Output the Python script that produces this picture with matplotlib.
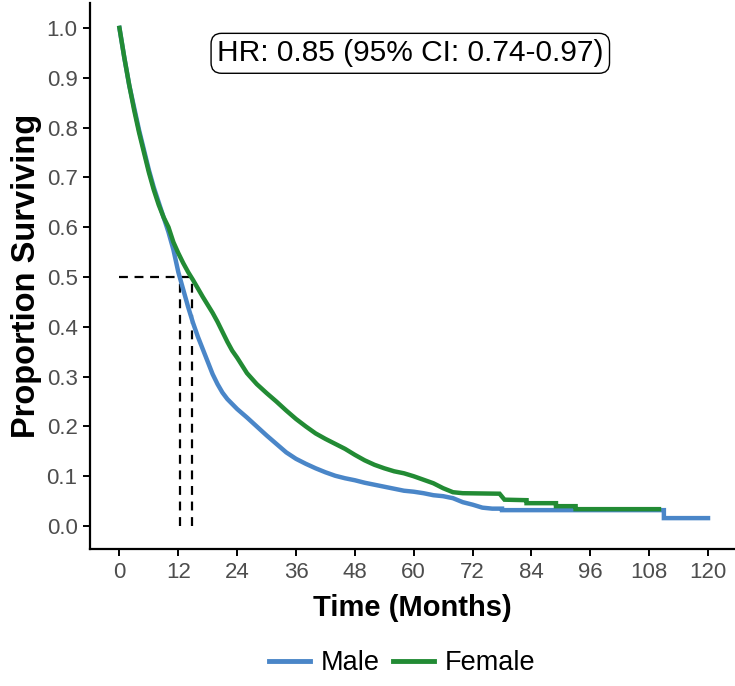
import matplotlib
matplotlib.use("Agg")
from matplotlib import pyplot as plt
from matplotlib.lines import Line2D

# Kaplan-Meier estimates
# (dense part drawn as a polyline, repeated times give the visible drops in the tail)
male_t = [0, 1, 2, 3, 4, 5, 6, 7, 8, 9, 10, 11, 12, 13, 14, 15, 16, 17, 18, 19,
          20, 21, 22, 23, 24, 26, 28, 30, 32, 34, 36, 38, 40, 42, 44, 46, 48, 50,
          52, 54, 56, 58, 60, 62, 64, 66, 68, 70, 72, 74, 76, 78, 78, 111, 111, 120]
male_s = [1.0, 0.94, 0.885, 0.84, 0.795, 0.755, 0.715, 0.68, 0.65, 0.62, 0.59,
          0.555, 0.51, 0.475, 0.44, 0.408, 0.38, 0.355, 0.33, 0.305, 0.285,
          0.268, 0.255, 0.245, 0.235, 0.218, 0.2, 0.182, 0.165, 0.148, 0.135,
          0.125, 0.116, 0.108, 0.101, 0.096, 0.092, 0.087, 0.083, 0.079, 0.075,
          0.071, 0.069, 0.066, 0.062, 0.06, 0.056, 0.048, 0.043, 0.037, 0.035,
          0.035, 0.032, 0.032, 0.016, 0.016]

female_t = [0, 1, 2, 3, 4, 5, 6, 7, 8, 9, 10, 11, 12, 13, 14, 15, 16, 17, 18, 19,
            20, 21, 22, 23, 24, 26, 28, 30, 32, 34, 36, 38, 40, 42, 44, 46, 48,
            50, 52, 54, 56, 58, 60, 62, 64, 66, 68, 70, 77.5, 78.5, 83, 83, 89,
            89, 93, 93, 110]
female_s = [1.0, 0.94, 0.885, 0.835, 0.79, 0.75, 0.71, 0.675, 0.645, 0.62, 0.6,
            0.57, 0.548, 0.528, 0.51, 0.494, 0.477, 0.46, 0.444, 0.428, 0.41,
            0.39, 0.37, 0.352, 0.338, 0.307, 0.285, 0.267, 0.25, 0.232, 0.215,
            0.2, 0.186, 0.175, 0.165, 0.155, 0.143, 0.132, 0.123, 0.116, 0.11,
            0.106, 0.1, 0.093, 0.086, 0.076, 0.068, 0.066, 0.065, 0.053, 0.052,
            0.046, 0.046, 0.04, 0.04, 0.034, 0.034]

medians = [12.25, 14.75]
hr_text = "HR: 0.85 (95% CI: 0.74-0.97)"
x_ticks = list(range(0, 121, 12))
y_ticks = [i / 10 for i in range(11)]

blue = "#4A86C8"
green = "#228B34"
grey = "#4D4D4D"

plt.rcParams['font.family'] = ['Liberation Sans', 'DejaVu Sans']

fig = plt.figure(figsize=(7.35, 6.86), dpi=100)
ax = fig.add_axes([90 / 735, 137 / 686, 645 / 735, 546 / 686])

# median guides
ax.plot([0, max(medians)], [0.5, 0.5], color="black", ls=(0, (4, 3)), lw=1.6)
for m in medians:
    ax.plot([m, m], [0, 0.5], color="black", ls=(0, (4, 3)), lw=1.6)

ax.plot(male_t, male_s, color=blue, lw=3.2, solid_joinstyle="miter")
ax.plot(female_t, female_s, color=green, lw=3.2, solid_joinstyle="miter")

ax.set_xlim(-6, 125.5)
ax.set_ylim(-0.046, 1.05)
ax.set_xticks(x_ticks)
ax.set_yticks(y_ticks)
ax.set_yticklabels([f"{v:.1f}" for v in y_ticks])
for s in ["top", "right"]:
    ax.spines[s].set_visible(False)
for s in ["left", "bottom"]:
    ax.spines[s].set_linewidth(1.6)
ax.tick_params(length=5, width=1.4, labelsize=16, labelcolor=grey, pad=4)

ax.set_xlabel("Time (Months)", fontsize=21, fontweight="bold", labelpad=8)
ax.set_ylabel("Proportion Surviving", fontsize=23.5, fontweight="bold", labelpad=3)

ax.text(59.3, 0.949, hr_text, ha="center", va="center", fontsize=21.5,
        bbox=dict(boxstyle="round,pad=0.2,rounding_size=0.35", fc="white",
                  ec="black", lw=1))

handles = [Line2D([], [], color=blue, lw=3.5), Line2D([], [], color=green, lw=3.5)]
fig.legend(handles, ["Male", "Female"], loc="center", bbox_to_anchor=(402 / 735, 23 / 686),
           ncol=2, frameon=False, fontsize=19.5, handlelength=1.5, columnspacing=0.5,
           handletextpad=0.4)

fig.savefig("out.png", dpi=100)
